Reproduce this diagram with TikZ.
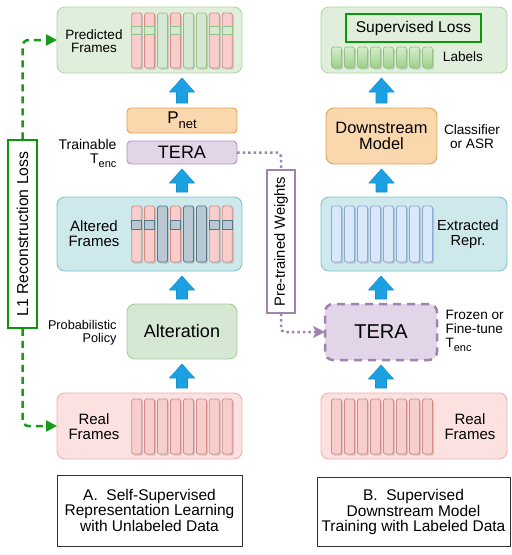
\documentclass[tikz,border=0pt]{standalone}
\usepackage{fontspec}
\usepackage{graphicx}
\setmainfont{Liberation Sans}
\usetikzlibrary{arrows.meta,calc,shadows}
\definecolor{cGf}{HTML}{E0EFDC}\definecolor{cGd}{HTML}{B3D5A5}
\definecolor{cTf}{HTML}{CDE9EB}\definecolor{cTd}{HTML}{82C4C9}
\definecolor{cPf}{HTML}{FBE2E1}\definecolor{cPd}{HTML}{EAB0AE}
\definecolor{bRf}{HTML}{F8CECC}\definecolor{bRd}{HTML}{D88A87}
\definecolor{bGf}{HTML}{D5E8D4}\definecolor{bGd}{HTML}{93C282}
\definecolor{bSf}{HTML}{BAC8D3}\definecolor{bSd}{HTML}{5A7489}
\definecolor{bBf}{HTML}{DAE8FC}\definecolor{bBd}{HTML}{8EA9D3}
\definecolor{oF}{HTML}{FAD7AC}\definecolor{oD}{HTML}{E3A353}
\definecolor{pF}{HTML}{E1D5E7}\definecolor{pD}{HTML}{B195C1}\definecolor{pD2}{HTML}{A083B3}
\definecolor{aGd}{HTML}{A6CD96}
\definecolor{blF}{HTML}{1BA1E2}\definecolor{blD}{HTML}{1691CF}
\definecolor{gLine}{HTML}{1A9A1A}\definecolor{gBox}{HTML}{0C960C}
\definecolor{lGt}{HTML}{D6EDCC}\definecolor{lGb}{HTML}{9BD085}
\newcommand\sbs[2]{\raisebox{-0.3em}{\fontsize{#1}{#1}\selectfont #2}}
\newcommand\uparr[3]{%
  \draw[bluearr] let \p0=(#1.center), \p1=(#2.north), \p2=(#3.south) in
  (\x0-5.5pt,\y1+5pt) -- (\x0-5.5pt,\y2-19pt) -- (\x0-12.5pt,\y2-19pt) -- (\x0,\y2-5pt)
  -- (\x0+12.5pt,\y2-19pt) -- (\x0+5.5pt,\y2-19pt) -- (\x0+5.5pt,\y1+5pt) -- cycle;}
\tikzset{
  fs/.style={font=\fontsize{#1pt}{#1pt*1.2}\selectfont},
  cont/.style={draw, rounded corners=8pt, inner sep=0pt, outer sep=0pt, anchor=north west, line width=0.9pt},
  blk/.style={draw, inner sep=0pt, outer sep=0pt, anchor=north west, line width=0.9pt},
  fbar/.style={draw, rounded corners=1.5pt, inner sep=0pt, outer sep=0pt, anchor=north west,
    minimum width=10pt, line width=0.8pt,
    drop shadow={shadow xshift=1.5pt, shadow yshift=-1.5pt, opacity=0.3, fill=gray}},
  strip/.style={draw, inner sep=0pt, outer sep=0pt, anchor=north west, minimum width=10pt, line width=0.8pt},
  barR/.style={fill=bRf, draw=bRd}, barG/.style={fill=bGf, draw=bGd},
  barS/.style={fill=bSf, draw=bSd}, barB/.style={fill=bBf, draw=bBd},
  bluearr/.style={fill=blF, draw=blD, line width=0.6pt},
  capbox/.style={draw=black!80, line width=0.8pt, fill=white, inner sep=0pt, anchor=north west},
}
\begin{document}
\begin{tikzpicture}[x=1pt,y=-1pt]
\useasboundingbox (0,0) rectangle (512,555);
% ---------- containers ----------
\node[cont, fill=cGf, draw=cGd, minimum width=185pt, minimum height=66pt] (pred) at (57,7) {};
\node[cont, fill=cTf, draw=cTd, minimum width=185pt, minimum height=74pt] (altd) at (57,197) {};
\node[cont, fill=cPf, draw=cPd, minimum width=185pt, minimum height=66pt] (real) at (57,393) {};
\node[cont, fill=cGf, draw=cGd, minimum width=186pt, minimum height=66pt] (supc) at (321,7) {};
\node[cont, fill=cTf, draw=cTd, minimum width=186pt, minimum height=74pt] (extr) at (321,197) {};
\node[cont, fill=cPf, draw=cPd, minimum width=186pt, minimum height=66pt] (real2) at (321,393) {};
% ---------- blocks ----------
\node[blk, rounded corners=4pt, fill=oF, draw=oD, minimum width=110pt, minimum height=25pt] (pnet) at (127,108) {};
\node[fs=17] (tpnet) at (182,120.5) {P\sbs{13}{net}};
\node[blk, rounded corners=4pt, fill=pF, draw=pD, minimum width=110pt, minimum height=23pt] (tera) at (127,141) {};
\node[fs=18] (ttera) at (182,152.5) {TERA};
\node[blk, rounded corners=8pt, fill=bGf, draw=aGd, minimum width=110pt, minimum height=55pt] (alt) at (127,304) {};
\node[fs=18] (talt) at (182,331.5) {Alteration};
\node[blk, rounded corners=8pt, fill=oF, draw=oD, minimum width=111pt, minimum height=56pt] (down) at (326,108) {};
\node[fs=16.4, align=center] (tdown) at (381.5,136) {Downstream\\Model};
\node[blk, rounded corners=8pt, fill=pF, draw=pD2, line width=2.5pt, dash pattern=on 8pt off 6pt, minimum width=112pt, minimum height=56pt] (tera2) at (325,304) {};
\node[fs=20] (ttera2) at (381,332) {TERA};
% ---------- frame bars, left ----------
\foreach \i/\t in {1/R,2/R,3/G,4/R,5/G,6/G,7/R,8/R}{
  \pgfmathsetmacro\bx{131.7+12.94*(\i-1)}
  \node[fbar, bar\t, minimum height=55pt] (pb\i) at (\bx,13) {};
}
\foreach \i in {1,2,4,7,8}{
  \pgfmathsetmacro\bx{131.7+12.94*(\i-1)}
  \node[strip, barG, minimum height=8pt] (ps\i) at (\bx,26) {};
}
\foreach \i/\t in {1/R,2/R,3/S,4/R,5/S,6/S,7/R,8/R}{
  \pgfmathsetmacro\bx{131.7+12.94*(\i-1)}
  \node[fbar, bar\t, minimum height=56pt] (ab\i) at (\bx,206) {};
}
\foreach \i in {1,2,4,7,8}{
  \pgfmathsetmacro\bx{131.7+12.94*(\i-1)}
  \node[strip, barS, minimum height=9pt] (as\i) at (\bx,220) {};
}
\foreach \i in {1,...,8}{
  \pgfmathsetmacro\bx{131.7+12.94*(\i-1)}
  \node[fbar, barR, minimum height=55pt] (rb\i) at (\bx,399) {};
}
% ---------- frame bars, right ----------
\foreach \i in {1,...,8}{
  \pgfmathsetmacro\bx{331.5+13*(\i-1)}
  \node[fbar, barB, minimum height=56pt] (eb\i) at (\bx,206) {};
  \node[fbar, barR, minimum height=55pt] (r2b\i) at (\bx,399) {};
  \node[fbar, draw=bGd, top color=lGt, bottom color=lGb, rounded corners=2.5pt, minimum height=21pt] (lb\i) at (\bx,47) {};
}
% ---------- text ----------
\node[fs=13.5, align=center] (tpred) at (94,41) {Predicted\\Frames};
\node[fs=15, align=center] (taltd) at (94,233.5) {Altered\\Frames};
\node[fs=15, align=center] (treal) at (94,427) {Real\\Frames};
\node[fs=15, align=center] (treal2) at (470,427) {Real\\Frames};
\node[fs=14.6, align=center] (textr) at (468,234.5) {Extracted\\Repr.};
\node[fs=13.6] (tlab) at (463,57) {Labels};
\node[fs=13.6, align=center] (tcls) at (472,136.5) {Classifier\\or ASR};
\node[fs=13.6, align=left, anchor=west] (tfroz) at (442,331) {Frozen or\\Fine-tune\\T\sbs{11}{enc}};
\node[fs=14, align=right, anchor=east] (ttrain) at (120,153.5) {Trainable\\T\sbs{11}{enc}};
\node[fs=12.7, align=right, anchor=east] (tprob) at (120,333) {Probabilistic\\Policy};
\node[blk, anchor=center, draw=gBox, line width=1.5pt, fill=cGf, minimum width=135pt, minimum height=28pt, fs=15.6] (sloss) at (413.5,28) {Supervised Loss};
% ---------- captions ----------
\node[capbox, minimum width=185pt, minimum height=71pt] (capA) at (57,475) {};
\node[fs=15.5, align=center] (tcapA) at (149.5,510) {A.\ \ Self-Supervised\\Representation Learning\\with Unlabeled Data};
\node[capbox, minimum width=193pt, minimum height=69pt] (capB) at (317,477) {};
\node[fs=15.5, align=center] (tcapB) at (413.5,512) {B.\ \ Supervised\\Downstream Model\\Training with Labeled Data};
% ---------- side boxes ----------
\node[draw=gBox, line width=1.5pt, fill=white, rotate=90, minimum width=188pt, minimum height=29pt, inner sep=0pt, fs=15.8] (l1) at (22.5,234) {L1 Reconstruction Loss};
\node[draw=pD2, line width=1.2pt, fill=white, rotate=90, minimum width=143pt, minimum height=28pt, inner sep=0pt, fs=14.7] (pw) at (281,241.5) {Pre-trained Weights};
% ---------- connectors ----------
\draw[gLine, line width=2.5pt, dash pattern=on 7pt off 5pt, rounded corners=6pt, -{Triangle[length=11pt,width=11pt]}] (l1.east) |- (pred.west);
\draw[gLine, line width=2.5pt, dash pattern=on 7pt off 5pt, rounded corners=6pt, -{Triangle[length=11pt,width=11pt]}] (l1.west) |- (real.west);
\draw[pD2, line width=2.5pt, dash pattern=on 2.5pt off 3pt, rounded corners=4pt] (tera.east) -| (pw.east);
\draw[pD2, line width=2.5pt, dash pattern=on 2.5pt off 3pt, rounded corners=4pt, -{Stealth[length=12pt,width=12pt,inset=3pt]}] (pw.west) |- (tera2.west);
\uparr{pnet}{pnet}{pred}
\uparr{alt}{altd}{tera}
\uparr{alt}{alt}{altd}
\uparr{alt}{real}{alt}
\uparr{down}{down}{supc}
\uparr{down}{extr}{down}
\uparr{tera2}{tera2}{extr}
\uparr{tera2}{real2}{tera2}
\end{tikzpicture}
\end{document}
